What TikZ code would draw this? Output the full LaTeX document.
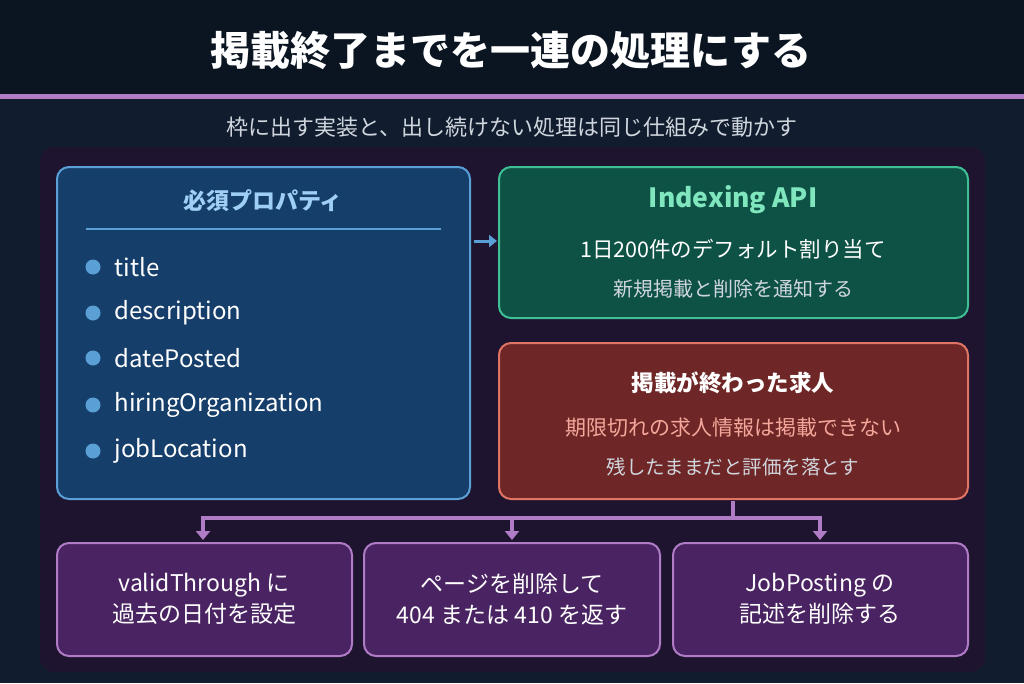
\documentclass[tikz,border=0pt]{standalone}
\usepackage{fontspec}
\setmainfont{Noto Sans CJK JP}
\usetikzlibrary{arrows.meta}
\definecolor{bgtop}{HTML}{0B1522}
\definecolor{bgbody}{HTML}{111D2E}
\definecolor{cont}{HTML}{1F1430}
\definecolor{pline}{HTML}{B07CC6}
\definecolor{bfill}{HTML}{163E6A}\definecolor{bdraw}{HTML}{5A9FD6}\definecolor{btext}{HTML}{9FCFF5}
\definecolor{gfill}{HTML}{0E5246}\definecolor{gdraw}{HTML}{3FBF95}\definecolor{gtext}{HTML}{7FE6BD}
\definecolor{rfill}{HTML}{6E2726}\definecolor{rdraw}{HTML}{E07565}\definecolor{rtext}{HTML}{F4A79A}
\definecolor{pfill}{HTML}{4A2362}
\definecolor{sub}{HTML}{D0D6DE}
\begin{document}
\begin{tikzpicture}[x=1pt,y=-1pt,
 box/.style={rounded corners=12pt,line width=2pt},
 txt/.style={text=white,font=\fontsize{23}{31}\selectfont,align=center},
 bul/.style={circle,fill=bdraw,inner sep=0pt,minimum size=15pt},
 item/.style={anchor=west,text=white,font=\fontsize{24}{28}\selectfont},
 conn/.style={pline,line width=3.5pt},
 arr/.style={pline,line width=3.5pt,-{Triangle[length=9pt,width=14pt]}}]
\useasboundingbox (0,0) rectangle (1024,683);
\fill[bgbody] (0,0) rectangle (1024,683);
\fill[bgtop] (0,0) rectangle (1024,94);
\fill[pline] (0,94) rectangle (1024,99);
\node[text=white,font=\bfseries\fontsize{40}{46}\selectfont] (title) at (511,50) {掲載終了までを一連の処理にする};
\node[text=sub,font=\fontsize{22}{26}\selectfont] (sub) at (512,127) {枠に出す実装と、出し続けない処理は同じ仕組みで動かす};
\fill[cont,rounded corners=14pt] (40,147) rectangle (985,672);
% blue
\draw[box,fill=bfill,draw=bdraw] (57,167) rectangle (470,499);
\node[text=btext,font=\bfseries\fontsize{23}{27}\selectfont] (bt) at (263,201) {必須プロパティ};
\draw[bdraw,line width=1.5pt] (86,229) -- (441,229);
\foreach \y/\t [count=\i] in {267/title,313/description,358/datePosted,405/hiringOrganization,451/jobLocation}{
 \node[bul] (b\i) at (93,\y) {};
 \node[item] (i\i) at (111,\y) {\t};
}
\coordinate (a1) at (474,241); \coordinate (a2) at (497,241);
\draw[bdraw,line width=3pt,-{Triangle[length=8pt,width=12pt]}] (a1) -- (a2);
% green
\draw[box,fill=gfill,draw=gdraw] (499,167) rectangle (968,318);
\node[text=gtext,font=\bfseries\fontsize{26.5}{30}\selectfont] (g1) at (733,200) {Indexing API};
\node[text=white,font=\fontsize{21.5}{25}\selectfont] (g2) at (733,249) {1日200件のデフォルト割り当て};
\node[text=sub,font=\fontsize{20}{24}\selectfont] (g3) at (733,289) {新規掲載と削除を通知する};
% red
\draw[box,fill=rfill,draw=rdraw] (499,343) rectangle (968,499);
\node[text=white,font=\bfseries\fontsize{22.5}{26}\selectfont] (r1) at (733,383) {掲載が終わった求人};
\node[text=rtext,font=\fontsize{21}{25}\selectfont] (r2) at (733,428) {期限切れの求人情報は掲載できない};
\node[text=sub,font=\fontsize{19.5}{23}\selectfont] (r3) at (733,467) {残したままだと評価を落とす};
% bottom
\draw[box,fill=pfill,draw=pline] (57,543) rectangle (352,656);
\draw[box,fill=pfill,draw=pline] (364,543) rectangle (660,656);
\draw[box,fill=pfill,draw=pline] (673,543) rectangle (968,656);
\node[txt] (p1) at (204,599) {validThrough に\\過去の日付を設定};
\node[txt] (p2) at (512,599) {ページを削除して\\404 または 410 を返す};
\node[txt] (p3) at (820,599) {JobPosting の\\記述を削除する};
\coordinate (s) at (733,501); \coordinate (j) at (733,518);
\coordinate (l) at (203,518); \coordinate (m) at (512,518); \coordinate (r) at (820,518);
\coordinate (le) at (203,540); \coordinate (me) at (512,540); \coordinate (re) at (820,540);
\draw[conn] (s) -- (j);
\draw[conn] ([xshift=-1.75pt]l) -- ([xshift=1.75pt]r);
\draw[arr] (l) -- (le);
\draw[arr] (m) -- (me);
\draw[arr] (r) -- (re);
\end{tikzpicture}
\end{document}
